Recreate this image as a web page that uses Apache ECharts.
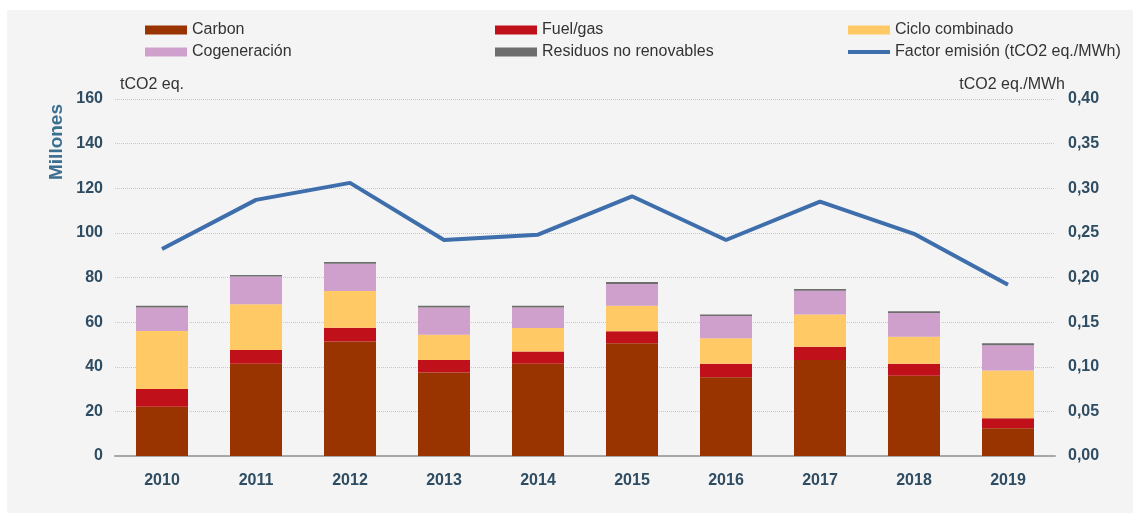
<!DOCTYPE html>
<html>
<head>
<meta charset="utf-8">
<script src="https://cdn.jsdelivr.net/npm/echarts@6/dist/echarts.min.js"></script>
<style>
html,body{margin:0;padding:0;background:#ffffff;}
#chart{width:1133px;height:524px;}
</style>
</head>
<body>
<div id="chart"></div>
<script>
const years = ['2010','2011','2012','2013','2014','2015','2016','2017','2018','2019'];
const carbon = [22.1, 41.3, 51.3, 37.4, 41.3, 50.5, 35.3, 43.0, 36.0, 12.4];
const fuelGas = [7.9, 6.2, 6.2, 5.6, 5.5, 5.4, 6.0, 6.0, 5.3, 4.5];
const cicloCombinado = [26.0, 20.5, 16.5, 11.3, 10.6, 11.4, 11.5, 14.4, 12.2, 21.4];
const cogeneracion = [10.5, 12.4, 12.2, 12.2, 9.1, 9.8, 10.0, 10.7, 10.6, 11.3];
const residuos = [0.8, 0.7, 0.7, 0.8, 0.8, 0.9, 0.6, 0.8, 0.8, 0.9];
const factorEmision = [0.232, 0.287, 0.306, 0.242, 0.248, 0.291, 0.242, 0.285, 0.249, 0.192];

const FONT = "'Liberation Sans', Arial, sans-serif";
const AXIS_COLOR = '#2e4c62';
const chart = echarts.init(document.getElementById('chart'));

const legendText = {fontFamily: FONT, fontSize: 16, color: '#333333', lineHeight: 18};
function bar(name, data, color) {
  return {name, type: 'bar', stack: 'total', data, barWidth: 52,
    itemStyle: {color}, emphasis: {disabled: true}};
}

chart.setOption({
  backgroundColor: '#ffffff',
  animation: false,
  graphic: [
    {type: 'rect', z: -10, silent: true, shape: {x: 7, y: 10, width: 1126, height: 503}, style: {fill: '#f4f4f4'}},
    {type: 'text', left: 120, top: 77, style: {text: 'tCO2 eq.', font: '16px ' + FONT, fill: '#333333'}},
    {type: 'text', right: 68, top: 77, style: {text: 'tCO2 eq./MWh', font: '16px ' + FONT, fill: '#333333'}},
    {type: 'text', x: 57, y: 142, rotation: Math.PI / 2,
      style: {text: 'Millones', font: 'bold 19px ' + FONT, fill: '#3b6e8f', align: 'center', verticalAlign: 'middle'}}
  ],
  legend: [
    {left: 145, top: 21, orient: 'vertical', itemGap: 4, itemWidth: 42, itemHeight: 9, padding: 0,
      icon: 'rect', textStyle: legendText, data: ['Carbon', 'Cogeneración']},
    {left: 495, top: 21, orient: 'vertical', itemGap: 4, itemWidth: 42, itemHeight: 9, padding: 0,
      icon: 'rect', textStyle: legendText, data: ['Fuel/gas', 'Residuos no renovables']},
    {left: 848, top: 21, orient: 'vertical', itemGap: 4, itemWidth: 42, itemHeight: 9, padding: 0,
      icon: 'rect', textStyle: legendText, data: ['Ciclo combinado']},
    {left: 848, top: 43, orient: 'vertical', itemGap: 4, itemWidth: 42, itemHeight: 4, padding: 0,
      icon: 'rect', textStyle: legendText, data: ['Factor emisión (tCO2 eq./MWh)']}
  ],
  grid: {left: 115, right: 78, top: 99, bottom: 68, containLabel: false},
  xAxis: {
    type: 'category', data: years,
    axisLine: {lineStyle: {color: '#a8a8a8', width: 2}},
    axisTick: {show: false},
    axisLabel: {fontFamily: FONT, fontSize: 16, fontWeight: 'bold', color: AXIS_COLOR, margin: 17}
  },
  yAxis: [
    {type: 'value', min: 0, max: 160, interval: 20,
      axisLine: {show: false}, axisTick: {show: false},
      axisLabel: {fontFamily: FONT, fontSize: 16, fontWeight: 'bold', color: AXIS_COLOR, margin: 12},
      splitLine: {lineStyle: {color: '#c9c9c9', type: 'dotted', width: 1}}},
    {type: 'value', min: 0, max: 0.4, interval: 0.05, position: 'right',
      axisLine: {show: false}, axisTick: {show: false},
      axisLabel: {fontFamily: FONT, fontSize: 16, fontWeight: 'bold', color: AXIS_COLOR, margin: 13,
        formatter: v => v.toFixed(2).replace('.', ',')},
      splitLine: {show: false}}
  ],
  series: [
    bar('Carbon', carbon, '#993300'),
    bar('Fuel/gas', fuelGas, '#c0111b'),
    bar('Ciclo combinado', cicloCombinado, '#ffc966'),
    bar('Cogeneración', cogeneracion, '#cfa0cb'),
    bar('Residuos no renovables', residuos, '#6e6e6e'),
    {name: 'Factor emisión (tCO2 eq./MWh)', type: 'line', yAxisIndex: 1, data: factorEmision,
      symbol: 'none', z: 5, lineStyle: {color: '#3e6eab', width: 4}, itemStyle: {color: '#3e6eab'},
      emphasis: {disabled: true}}
  ]
});
</script>
</body>
</html>
